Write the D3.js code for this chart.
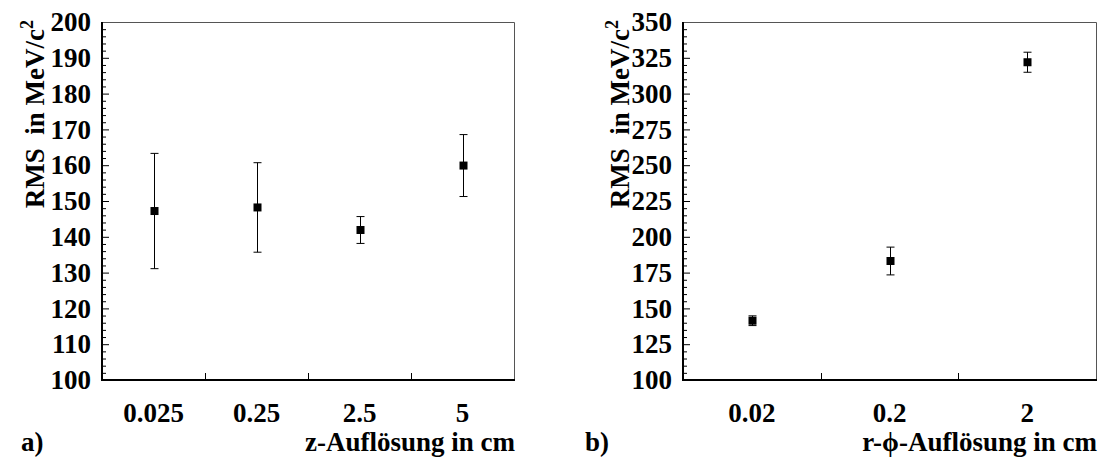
<!DOCTYPE html>
<html>
<head>
<meta charset="utf-8">
<script src="https://cdn.jsdelivr.net/npm/d3@7"></script>
<style>
  body { margin: 0; background: #fff; }
  svg text { font-family: 'Liberation Serif', 'DejaVu Serif', serif !important; font-weight: bold; fill: #000; }
</style>
</head>
<body>
<div id="viz"></div>
<script>
const width = 1098;
const height = 467;
const fontSize = 27;
const fontFamily = "'Liberation Serif', 'DejaVu Serif', serif";

// panel a) z resolution
const zLabels = ['0.025', '0.25', '2.5', '5'];
const zRms = [147.2, 148.2, 141.9, 159.9];
const zErr = [16.1, 12.5, 3.75, 8.65];
const zTicks = [100, 110, 120, 130, 140, 150, 160, 170, 180, 190, 200];

// panel b) r-phi resolution
const rLabels = ['0.02', '0.2', '2'];
const rRms = [141.4, 183.1, 321.9];
const rErr = [3.4, 9.7, 7];
const rTicks = [100, 125, 150, 175, 200, 225, 250, 275, 300, 325, 350];

const svg = d3.select('#viz')
  .append('svg')
    .attr('width', width)
    .attr('height', height);

const drawPanel = (opt) => {
  const top = 22, bottom = 380;
  const g = svg.append('g');

  const xScale = d3.scaleBand()
    .domain(opt.labels)
    .range([opt.left, opt.right])
    .paddingInner(0)
    .paddingOuter(0);

  const yMin = opt.ticks[0], yMax = opt.ticks[opt.ticks.length - 1];
  const yScale = d3.scaleLinear()
    .domain([yMin, yMax])
    .range([bottom, top]);

  const step = opt.ticks[1] - opt.ticks[0];
  const minor = d3.range(yMin, yMax, step / 5).filter(v => !opt.ticks.includes(v));

  // minor y ticks
  g.append('g')
    .attr('transform', `translate(${opt.left}, 0)`)
    .call(d3.axisLeft(yScale).tickValues(minor).tickSize(-4).tickFormat(''))
    .call(a => a.select('.domain').remove());

  // major y ticks + labels
  g.append('g')
    .attr('transform', `translate(${opt.left}, 0)`)
    .call(d3.axisLeft(yScale).tickValues(opt.ticks).tickSize(-7).tickPadding(11).tickFormat(d3.format('d')))
    .attr('font-family', fontFamily)
    .attr('font-size', fontSize)
    .call(a => a.select('.domain').remove());

  // x labels
  g.append('g')
    .attr('transform', `translate(0, ${bottom})`)
    .call(d3.axisBottom(xScale).tickSize(0).tickPadding(23))
    .attr('font-family', fontFamily)
    .attr('font-size', fontSize)
    .call(a => a.select('.domain').remove());

  // x ticks at the category boundaries
  g.append('g')
    .selectAll('line')
    .data(opt.labels.slice(1))
    .join('line')
      .attr('x1', d => Math.round(xScale(d)) + 0.5)
      .attr('x2', d => Math.round(xScale(d)) + 0.5)
      .attr('y1', bottom)
      .attr('y2', bottom - 7)
      .attr('stroke', '#000');

  // frame
  g.append('path')
    .attr('d', `M${opt.left + 0.5},${bottom + 0.5}V${top + 0.5}H${opt.right + 0.5}V${bottom + 0.5}`)
    .attr('fill', 'none')
    .attr('stroke', '#555')
    .attr('stroke-width', 1);
  g.append('path')
    .attr('d', `M${opt.left},${top}V${bottom}H${opt.right + 1}`)
    .attr('fill', 'none')
    .attr('stroke', '#000')
    .attr('stroke-width', 2);

  // error bars + markers
  const pts = opt.labels.map((l, i) => ({label: l, v: opt.values[i], e: opt.errors[i]}));
  const cx = d => Math.round(xScale(d.label) + xScale.bandwidth() / 2) + 0.5;
  const cap = 4;
  const eb = g.append('g').attr('stroke', '#000').attr('stroke-width', 1);
  eb.selectAll('line.bar').data(pts).join('line')
    .attr('class', 'bar')
    .attr('x1', cx).attr('x2', cx)
    .attr('y1', d => yScale(d.v + d.e))
    .attr('y2', d => yScale(d.v - d.e));
  eb.selectAll('line.capt').data(pts).join('line')
    .attr('class', 'capt')
    .attr('x1', d => cx(d) - cap).attr('x2', d => cx(d) + cap)
    .attr('y1', d => yScale(d.v + d.e)).attr('y2', d => yScale(d.v + d.e));
  eb.selectAll('line.capb').data(pts).join('line')
    .attr('class', 'capb')
    .attr('x1', d => cx(d) - cap).attr('x2', d => cx(d) + cap)
    .attr('y1', d => yScale(d.v - d.e)).attr('y2', d => yScale(d.v - d.e));

  const ms = 8;
  g.append('g')
    .selectAll('rect')
    .data(pts)
    .join('rect')
      .attr('x', d => cx(d) - ms / 2)
      .attr('y', d => yScale(d.v) - ms / 2)
      .attr('width', ms)
      .attr('height', ms)
      .attr('fill', '#000');

  // y title
  const yt = g.append('text')
    .attr('transform', `translate(${opt.yTitleX}, 20) rotate(-90)`)
    .attr('text-anchor', 'end')
    .attr('font-size', fontSize);
  yt.append('tspan').text('RMS\u00a0 in MeV/c');
  yt.append('tspan').attr('font-size', 18).attr('dy', -11).text('2');

  // x title
  g.append('text')
    .attr('x', opt.right + 1)
    .attr('y', 451)
    .attr('text-anchor', 'end')
    .attr('font-size', fontSize)
    .text(opt.xTitle);

  // panel letter
  g.append('text')
    .attr('x', opt.letterX)
    .attr('y', 451)
    .attr('font-size', fontSize)
    .text(opt.letter);
};

drawPanel({
  left: 102, right: 514,
  labels: zLabels, values: zRms, errors: zErr, ticks: zTicks,
  yTitleX: 44, xTitle: 'z-Auflösung in cm', letter: 'a)', letterX: 21
});

drawPanel({
  left: 683, right: 1096,
  labels: rLabels, values: rRms, errors: rErr, ticks: rTicks,
  yTitleX: 629, xTitle: 'r-\u03d5-Auflösung in cm', letter: 'b)', letterX: 585
});
</script>
</body>
</html>
